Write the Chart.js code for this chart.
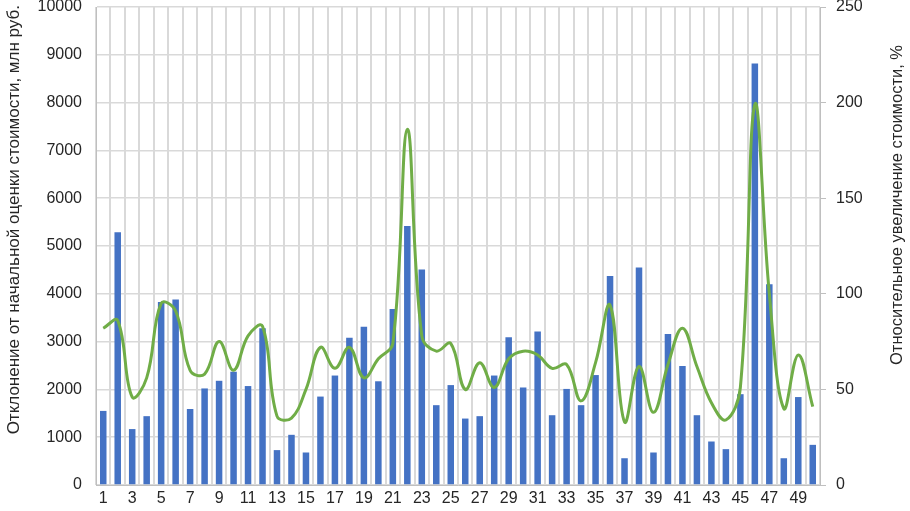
<!DOCTYPE html>
<html>
<head>
<meta charset="utf-8">
<script src="https://cdn.jsdelivr.net/npm/chart.js@4"></script>
<style>
  html, body { margin: 0; padding: 0; background: #fff; }
  #wrap { width: 910px; height: 511px; }
</style>
</head>
<body>
<div id="wrap"><canvas id="chart" width="910" height="511"></canvas></div>
<script>
// categories 1..50
const categories = [
  '1','2','3','4','5','6','7','8','9','10',
  '11','12','13','14','15','16','17','18','19','20',
  '21','22','23','24','25','26','27','28','29','30',
  '31','32','33','34','35','36','37','38','39','40',
  '41','42','43','44','45','46','47','48','49','50'
];

// deviation from the initial estimate, mln rub (left axis)
const deviation = [
  1550, 5290, 1170, 1440, 3830, 3880, 1590, 2020, 2180, 2370,
  2070, 3280, 730, 1050, 680, 1850, 2290, 3080, 3310, 2170,
  3680, 5420, 4510, 1670, 2090, 1390, 1440, 2290, 3090, 2040,
  3210, 1460, 2010, 1670, 2300, 4370, 560, 4550, 680, 3160,
  2490, 1460, 910, 750, 1900, 8820, 4200, 560, 1840, 840
];

// relative cost increase, % (right axis)
const increase = [
  82, 86, 46, 56, 95, 91, 60, 58, 75, 60,
  78, 83, 36, 35, 50, 72, 61, 72, 56, 66,
  74, 186, 78, 70, 74, 50, 64, 51, 66, 70,
  68, 61, 63, 44, 64, 94, 33, 62, 38, 63,
  82, 62, 43, 34, 51, 199, 100, 40, 68, 41
];

const leftTicks = [0, 1000, 2000, 3000, 4000, 5000, 6000, 7000, 8000, 9000, 10000];
const rightTicks = [0, 50, 100, 150, 200, 250];

const leftTitle = 'Отклонение от начальной оценки стоимости, млн руб.';
const rightTitle = 'Относительное увеличение стоимости, %';

const fontFamily = '"Liberation Sans", Arial, sans-serif';
const font = { family: fontFamily, size: 16 };
const gridColor = '#d9d9d9';
const textColor = '#262626';

// axis titles placed like the Excel original (not centred on the plot)
const axisTitles = {
    id: 'axisTitles',
    afterDraw(chart) {
        const ctx = chart.ctx;
        ctx.save();
        ctx.fillStyle = textColor;
        ctx.textBaseline = 'middle';

        ctx.save();
        ctx.font = '17px ' + fontFamily;
        ctx.translate(14, 5);
        ctx.rotate(-Math.PI / 2);
        ctx.textAlign = 'right';
        ctx.fillText(leftTitle, 0, 0);
        ctx.restore();

        ctx.save();
        ctx.font = '16.5px ' + fontFamily;
        ctx.translate(897, 45);
        ctx.rotate(-Math.PI / 2);
        ctx.textAlign = 'right';
        ctx.fillText(rightTitle, 0, 0);
        ctx.restore();

        ctx.restore();
    }
};

new Chart(document.getElementById('chart').getContext('2d'), {
    type: 'bar',
    data: {
        labels: categories,
        datasets: [{
            type: 'line',
            label: 'increase',
            data: increase,
            yAxisID: 'y2',
            borderColor: '#70ad47',
            borderWidth: 3,
            pointRadius: 0,
            tension: 0.4,
            fill: false,
            order: 0
        }, {
            label: 'deviation',
            data: deviation,
            yAxisID: 'y',
            backgroundColor: '#4472c4',
            categoryPercentage: 1,
            barPercentage: 0.45,
            order: 1
        }]
    },
    plugins: [axisTitles],
    options: {
        responsive: false,
        animation: false,
        layout: { padding: { top: 7, left: 0, right: 0, bottom: 0 } },
        plugins: {
            legend: { display: false },
            tooltip: { enabled: false }
        },
        scales: {
            x: {
                grid: { color: gridColor, lineWidth: 2, drawTicks: false, offset: true },
                border: { color: '#bfbfbf' },
                ticks: {
                    color: textColor,
                    font: font,
                    padding: 4,
                    autoSkip: false,
                    maxRotation: 0,
                    callback: function(v, i) { return i % 2 === 0 ? categories[i] : ''; }
                },
                afterFit: function(s) { s.height = 26; }
            },
            y: {
                position: 'left',
                min: 0, max: 10000,
                afterBuildTicks: function(s) { s.ticks = leftTicks.map(v => ({ value: v })); },
                grid: { color: gridColor, lineWidth: 1.5, drawTicks: false },
                border: { color: '#bfbfbf' },
                ticks: { color: textColor, font: font, padding: 14, callback: v => String(v) },
                afterFit: function(s) { s.width = 96; s.paddingTop = 0; s.paddingBottom = 0; }
            },
            y2: {
                position: 'right',
                min: 0, max: 250,
                afterBuildTicks: function(s) { s.ticks = rightTicks.map(v => ({ value: v })); },
                grid: { drawOnChartArea: false, color: '#bfbfbf', tickLength: 6 },
                border: { color: '#bfbfbf' },
                ticks: { color: textColor, font: font, padding: 10, callback: v => String(v) },
                afterFit: function(s) { s.width = 90; s.paddingTop = 0; s.paddingBottom = 0; }
            }
        }
    }
});
</script>
</body>
</html>
